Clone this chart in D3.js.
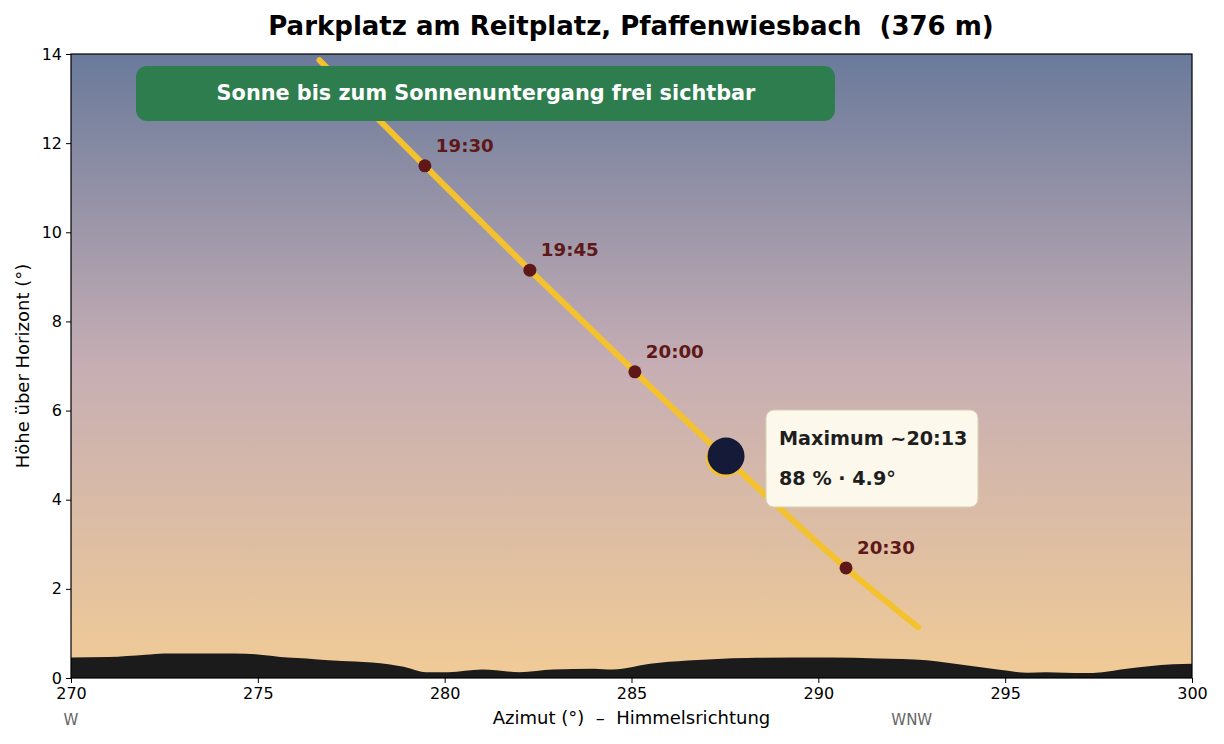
<!DOCTYPE html>
<html>
<head>
<meta charset="utf-8">
<script src="https://cdn.jsdelivr.net/npm/d3@7"></script>
<style>
  body { margin: 0; background: #fff; }
  svg { font-family: "DejaVu Sans", sans-serif; }
</style>
</head>
<body>
<div id="chart"></div>
<script>
var width = 1224;
var height = 744;
var margin = { top: 54, right: 32, bottom: 66, left: 71 };

// horizon profile (azimuth, altitude)
var horizonAz = [270, 271, 272, 272.5, 274.4, 275, 275.8, 276.3, 276.9, 277.6, 278.5, 278.9, 279.5, 280.1, 281, 282, 282.9, 284, 284.5, 285.5, 286.5, 288.1, 290.3, 291.6, 292.9, 293.9, 294.8, 295.6, 296.1, 297.1, 297.6, 298.2, 299.5, 300];
var horizonAlt = [0.46, 0.47, 0.52, 0.55, 0.55, 0.53, 0.46, 0.44, 0.40, 0.37, 0.31, 0.25, 0.13, 0.13, 0.19, 0.13, 0.19, 0.21, 0.19, 0.32, 0.39, 0.45, 0.46, 0.44, 0.40, 0.29, 0.19, 0.12, 0.13, 0.11, 0.13, 0.20, 0.31, 0.32];

// sun path
var pathAz = [276.65, 279.47, 282.28, 285.09, 287.9, 290.74, 292.67];
var pathAlt = [13.86, 11.49, 9.15, 6.87, 4.64, 2.47, 1.14];

// labelled time marks
var markTimes = ["19:30", "19:45", "20:00", "20:30"];
var markAz = [279.47, 282.28, 285.09, 290.74];
var markAlt = [11.49, 9.15, 6.87, 2.47];

// eclipse maximum
var maxAz = 287.53;
var maxAlt = 4.98;
var maxLines = ["Maximum ~20:13", "88 % \u00b7 4.9\u00b0"];

var xTicks = [270, 275, 280, 285, 290, 295, 300];
var yTicks = [0, 2, 4, 6, 8, 10, 12, 14];
var compassAz = [270, 292.5];
var compassNames = ["W", "WNW"];

var title = "Parkplatz am Reitplatz, Pfaffenwiesbach\u00a0\u00a0(376 m)";
var banner = "Sonne bis zum Sonnenuntergang frei sichtbar";

var svg = d3.select("#chart").append("svg")
  .attr("width", width)
  .attr("height", height);

var defs = svg.append("defs");
var grad = defs.append("linearGradient")
  .attr("id", "sky")
  .attr("x1", 0).attr("y1", 0).attr("x2", 0).attr("y2", 1);
grad.append("stop").attr("offset", "0%").attr("stop-color", "#6a7a9b");
grad.append("stop").attr("offset", "50%").attr("stop-color", "#c6aeb4");
grad.append("stop").attr("offset", "100%").attr("stop-color", "#f1cb96");

defs.append("clipPath").attr("id", "clip")
  .append("rect")
  .attr("x", margin.left).attr("y", margin.top)
  .attr("width", width - margin.left - margin.right)
  .attr("height", height - margin.top - margin.bottom);

var xScale = d3.scaleLinear()
  .domain([270, 300])
  .range([margin.left, width - margin.right]);
var yScale = d3.scaleLinear()
  .domain([0, 14])
  .range([height - margin.bottom, margin.top]);

// sky
svg.append("rect")
  .attr("x", margin.left).attr("y", margin.top)
  .attr("width", width - margin.left - margin.right)
  .attr("height", height - margin.top - margin.bottom)
  .attr("fill", "url(#sky)");

var plot = svg.append("g").attr("clip-path", "url(#clip)");

// horizon
var area = d3.area()
  .x(function(d, i) { return xScale(horizonAz[i]); })
  .y0(yScale(0))
  .y1(function(d) { return yScale(d); })
  .curve(d3.curveMonotoneX);
plot.append("path")
  .datum(horizonAlt)
  .attr("d", area)
  .attr("fill", "#1b1b1b");

// sun path
var line = d3.line()
  .x(function(d, i) { return xScale(pathAz[i]); })
  .y(function(d) { return yScale(d); })
  .curve(d3.curveMonotoneX);
plot.append("path")
  .datum(pathAlt)
  .attr("d", line)
  .attr("fill", "none")
  .attr("stroke", "#f4c22e")
  .attr("stroke-width", 6)
  .attr("stroke-linecap", "round");

// banner
var bannerG = svg.append("g");
bannerG.append("rect")
  .attr("x", 136).attr("y", 66)
  .attr("width", 699).attr("height", 55)
  .attr("rx", 11)
  .attr("fill", "#2e7d4f");
bannerG.append("text")
  .attr("x", 486).attr("y", 100)
  .attr("text-anchor", "middle")
  .attr("fill", "#fff")
  .attr("font-weight", "bold")
  .attr("font-size", "20.8px")
  .text(banner);

// time markers
var marks = svg.append("g");
marks.selectAll("circle")
  .data(markTimes)
  .enter()
  .append("circle")
  .attr("cx", function(d, i) { return xScale(markAz[i]); })
  .attr("cy", function(d, i) { return yScale(markAlt[i]); })
  .attr("r", 6.5)
  .attr("fill", "#5e1818");
marks.selectAll("text")
  .data(markTimes)
  .enter()
  .append("text")
  .attr("x", function(d, i) { return xScale(markAz[i]) + 11; })
  .attr("y", function(d, i) { return yScale(markAlt[i]) - 14; })
  .attr("fill", "#5e1818")
  .attr("font-weight", "bold")
  .attr("font-size", "18.2px")
  .text(function(d) { return d; });

// eclipse maximum: sun with moon in front
svg.append("circle")
  .attr("cx", xScale(maxAz) - 1.5)
  .attr("cy", yScale(maxAlt) + 2.5)
  .attr("r", 18.5)
  .attr("fill", "#f4c22e");
svg.append("circle")
  .attr("cx", xScale(maxAz))
  .attr("cy", yScale(maxAlt))
  .attr("r", 18.5)
  .attr("fill", "#141a37");

var box = svg.append("g");
box.append("rect")
  .attr("x", 766).attr("y", 410)
  .attr("width", 212).attr("height", 97)
  .attr("rx", 8)
  .attr("fill", "#fcf8ec")
  .attr("stroke", "#d9d1b1")
  .attr("stroke-width", 1);
box.selectAll("text")
  .data(maxLines)
  .enter()
  .append("text")
  .attr("x", 779)
  .attr("y", function(d, i) { return 445 + i * 40; })
  .attr("fill", "#1e1e1e")
  .attr("font-weight", "bold")
  .attr("font-size", "19.2px")
  .text(function(d) { return d; });

// axes
var xAxis = d3.axisBottom(xScale).tickValues(xTicks).tickSize(5).tickPadding(5)
  .tickFormat(d3.format("d"));
var yAxis = d3.axisLeft(yScale).tickValues(yTicks).tickSize(5).tickPadding(4)
  .tickFormat(d3.format("d"));

var gx = svg.append("g")
  .attr("class", "xAxis")
  .attr("transform", "translate(0," + (height - margin.bottom) + ")")
  .call(xAxis);
var gy = svg.append("g")
  .attr("class", "yAxis")
  .attr("transform", "translate(" + margin.left + ",0)")
  .call(yAxis);
[gx, gy].forEach(function(g) {
  g.select(".domain").remove();
  g.selectAll("text")
    .attr("font-family", "DejaVu Sans")
    .attr("font-size", "16px")
    .attr("fill", "#000");
  g.selectAll("line").attr("stroke", "#000");
});

// frame
svg.append("rect")
  .attr("x", margin.left).attr("y", margin.top)
  .attr("width", width - margin.left - margin.right)
  .attr("height", height - margin.top - margin.bottom)
  .attr("fill", "none")
  .attr("stroke", "#000")
  .attr("stroke-width", 1.2);

// compass names
svg.append("g").selectAll("text")
  .data(compassNames)
  .enter()
  .append("text")
  .attr("x", function(d, i) { return xScale(compassAz[i]); })
  .attr("y", 725)
  .attr("text-anchor", "middle")
  .attr("fill", "#666")
  .attr("font-size", "15px")
  .text(function(d) { return d; });

// axis labels
svg.append("text")
  .attr("x", (margin.left + width - margin.right) / 2)
  .attr("y", 724)
  .attr("text-anchor", "middle")
  .attr("font-size", "18px")
  .text("Azimut (\u00b0)\u00a0\u00a0\u2013\u00a0\u00a0Himmelsrichtung");

svg.append("text")
  .attr("transform", "translate(29," + ((margin.top + height - margin.bottom) / 2) + ")rotate(-90)")
  .attr("text-anchor", "middle")
  .attr("font-size", "18px")
  .text("H\u00f6he \u00fcber Horizont (\u00b0)");

// title
svg.append("text")
  .attr("x", 631)
  .attr("y", 35)
  .attr("text-anchor", "middle")
  .attr("font-weight", "bold")
  .attr("font-size", "26px")
  .text(title);
</script>
</body>
</html>
